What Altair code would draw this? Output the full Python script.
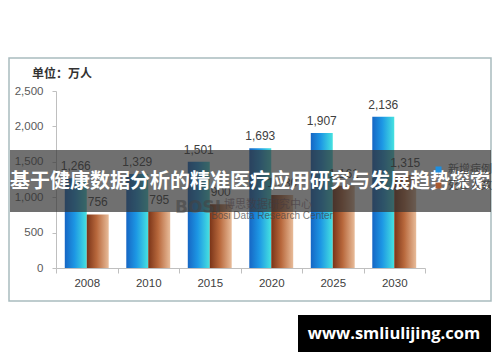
import altair as alt
import pandas as pd

years = ["2008", "2010", "2015", "2020", "2025", "2030"]
new_cases = [1266, 1329, 1501, 1693, 1907, 2136]
deaths = [756, 795, 900, 1030, 1161, 1315]
series = ["新增病例", "死亡人数"]
y_ticks = [0, 500, 1000, 1500, 2000, 2500]

unit_text = "单位：万人"
title_text = "基于健康数据分析的精准医疗应用研究与发展趋势探索"
site_text = "www.smliulijing.com"
wm_logo = "BOSI"
wm_cn = "博思数据研究中心"
wm_en = "Bosi Data Research Center"

df = pd.DataFrame({
    "year": years * 2,
    "series": [series[0]] * len(years) + [series[1]] * len(years),
    "value": new_cases + deaths,
})
one = pd.DataFrame({"k": [0]})

W, H = 369, 177

xscale = alt.Scale(domain=years, paddingInner=0, paddingOuter=0)
offscale = alt.Scale(domain=series, paddingInner=0, paddingOuter=0.4)
yscale = alt.Scale(domain=[0, 2500])

x_enc = alt.X("year:N", scale=xscale, sort=years,
              axis=alt.Axis(title=None, labelAngle=0, tickBand="extent", tickSize=5,
                            domainColor="#bfbfbf", tickColor="#bfbfbf",
                            labelColor="#404040", labelFontSize=11.5, labelPadding=4,
                            labelFont="Liberation Sans"))
off_enc = alt.XOffset("series:N", scale=offscale, sort=series)
y_enc = alt.Y("value:Q", scale=yscale,
              axis=alt.Axis(title=None, values=y_ticks, format=",.0f", grid=False,
                            domainColor="#bfbfbf", tickColor="#bfbfbf", tickSize=4,
                            labelColor="#595959", labelFontSize=11.5, labelPadding=9,
                            labelFont="Liberation Sans"))

blue = alt.Gradient(gradient="linear", x1=0, x2=1, y1=0, y2=0,
                    stops=[alt.GradientStop(color="#1666c4", offset=0),
                           alt.GradientStop(color="#1d97e4", offset=0.45),
                           alt.GradientStop(color="#46e2e0", offset=1)])
brown = alt.Gradient(gradient="linear", x1=0, x2=1, y1=0, y2=0,
                     stops=[alt.GradientStop(color="#7a3418", offset=0),
                            alt.GradientStop(color="#b8683c", offset=0.45),
                            alt.GradientStop(color="#e8bc9a", offset=1)])

base = alt.Chart(df)

frame = alt.Chart(one).mark_rect(fillOpacity=0, stroke="#a9bcbf", strokeWidth=1.5).encode(
    x=alt.value(-47), x2=alt.value(435), y=alt.value(-33), y2=alt.value(210))

bars_a = base.transform_filter(alt.datum.series == series[0]).mark_bar(fill=blue).encode(
    x=x_enc, xOffset=off_enc, y=y_enc)
bars_b = base.transform_filter(alt.datum.series == series[1]).mark_bar(fill=brown).encode(
    x=x_enc, xOffset=off_enc, y=y_enc)

labels = base.mark_text(baseline="bottom", dy=-5, fontSize=12, color="#404040",
                        font="Liberation Sans").encode(
    x=x_enc, xOffset=off_enc, y=y_enc, text=alt.Text("value:Q", format=","))

legend_layer = base.mark_square(opacity=0, size=0).encode(
    x=x_enc, xOffset=off_enc, y=y_enc,
    color=alt.Color("series:N", sort=series,
                    scale=alt.Scale(domain=series, range=["#1d8fe0", "#a85a30"]),
                    legend=alt.Legend(title=None, orient="none", legendX=377, legendY=73,
                                      symbolType="square", symbolSize=36, symbolOpacity=1,
                                      symbolStrokeWidth=0, labelFontSize=11,
                                      labelOffset=4, zindex=0,
                                      labelColor="#404040", rowPadding=4,
                                      labelFont="Noto Sans CJK SC")))

wm1 = alt.Chart(one).mark_text(text=wm_logo, fontSize=17, fontWeight="bold", color="#6a6a6a",
                               opacity=0.6, font="DejaVu Sans").encode(
    x=alt.value(142), y=alt.value(117))
wm2 = alt.Chart(one).mark_text(text=wm_cn, fontSize=11, color="#6a4a5a", opacity=0.6,
                               font="Noto Sans CJK SC").encode(
    x=alt.value(212), y=alt.value(114))
wm3 = alt.Chart(one).mark_text(text=wm_en, fontSize=10, color="#444444", opacity=0.7,
                               font="Liberation Sans").encode(
    x=alt.value(216), y=alt.value(125))

banner = alt.Chart(one).mark_rect(fill="#333333", opacity=0.7).encode(
    x=alt.value(-46), x2=alt.value(435), y=alt.value(59), y2=alt.value(121))
banner_text = alt.Chart(one).mark_text(text=title_text, fontSize=20, fontWeight="bold",
                                       color="white", font="Noto Sans CJK SC").encode(
    x=alt.value(194), y=alt.value(91))

unit = alt.Chart(one).mark_text(text=unit_text, fontSize=12, fontWeight="bold",
                                color="#333333", font="Noto Sans CJK SC").encode(
    x=alt.value(6), y=alt.value(-17))

site_box = alt.Chart(one).mark_rect(fill="black").encode(
    x=alt.value(242), x2=alt.value(435), y=alt.value(224), y2=alt.value(262))
site_txt = alt.Chart(one).mark_text(text=site_text, fontSize=16.5, fontWeight="bold",
                                    color="white", font="Open Sans").encode(
    x=alt.value(338), y=alt.value(243))

chart = alt.layer(
    frame, bars_a, bars_b, labels, legend_layer, wm1, wm2, wm3,
    banner, banner_text, unit, site_box, site_txt
).properties(
    width=W, height=H,
    autosize=alt.AutoSizeParams(type="none"),
    padding={"left": 48, "top": 83, "right": 67, "bottom": 84},
    background="white",
).configure_view(strokeWidth=0)

chart.save("out.html", embed_options={"renderer": "svg", "actions": False})
